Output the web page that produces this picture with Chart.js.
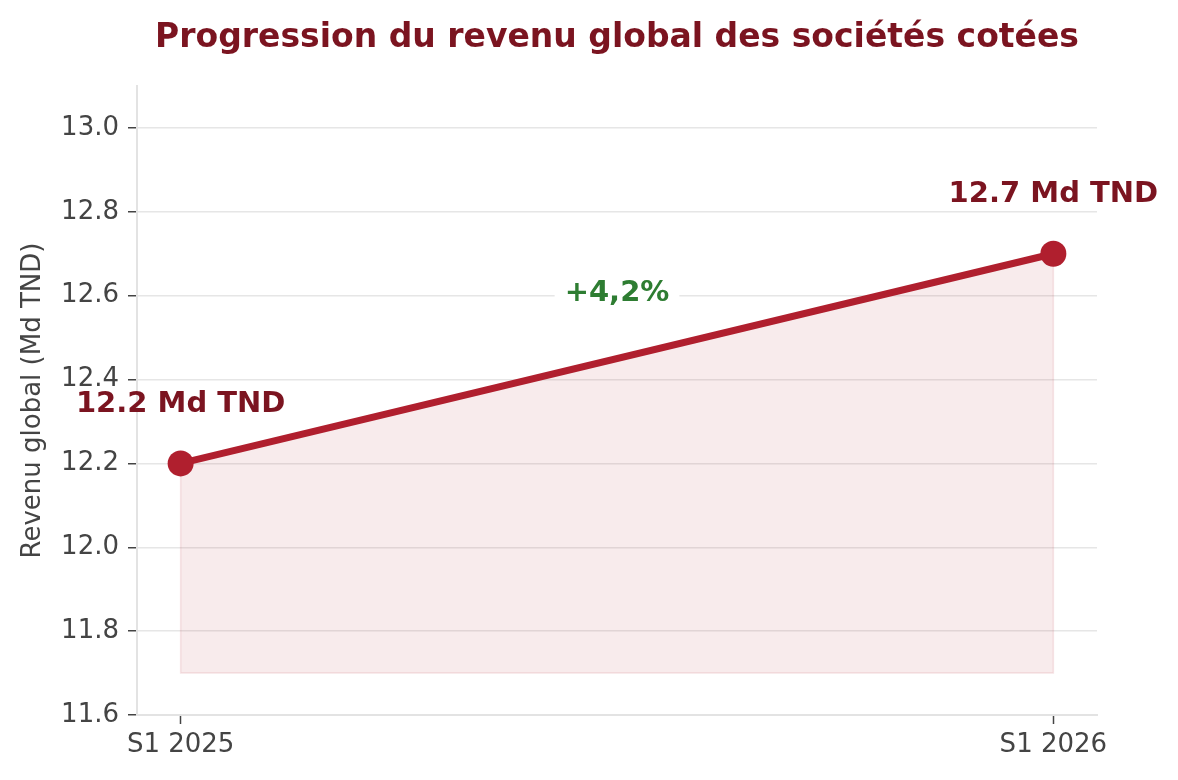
<!DOCTYPE html>
<html>
<head>
<meta charset="utf-8">
<script src="https://cdn.jsdelivr.net/npm/chart.js@4.4.1/dist/chart.umd.min.js"></script>
<style>
  html, body { margin: 0; padding: 0; background: #fff; }
  #wrap { width: 1178px; height: 780px; }
</style>
</head>
<body>
<div id="wrap"><canvas id="revChart" width="1178" height="780"></canvas></div>
<script>
const periods = ['S1 2025', 'S1 2026'];
const revenue = [12.2, 12.7];
const valueLabels = ['12.2 Md TND', '12.7 Md TND'];
const growthLabel = '+4,2%';
const fillBase = 11.7;
const yTicks = [11.6, 11.8, 12.0, 12.2, 12.4, 12.6, 12.8, 13.0];

const red = '#b01f2e';
const darkRed = '#7b1420';
const green = '#2e7d32';
const gray = '#444444';
const font = "'DejaVu Sans', sans-serif";

const linePoints = revenue.map((v, i) => ({ x: i, y: v }));
// outline of the shaded area (faint edge like fill_between)
const areaEdge = [
    { x: 0, y: revenue[0] },
    { x: 0, y: fillBase },
    { x: periods.length - 1, y: fillBase },
    { x: periods.length - 1, y: revenue[revenue.length - 1] }
];

const overlay = {
    id: 'overlay',
    afterDatasetsDraw(chart) {
        const { ctx, chartArea, scales: { x, y } } = chart;
        ctx.save();
        // title centred over the plot area
        ctx.fillStyle = darkRed;
        ctx.font = "bold 33px " + font;
        ctx.textAlign = 'center';
        ctx.textBaseline = 'middle';
        ctx.fillText('Progression du revenu global des sociétés cotées',
            (chartArea.left + chartArea.right) / 2, 38);

        // value labels above points
        ctx.font = "bold 29px " + font;
        revenue.forEach((v, i) => {
            ctx.fillText(valueLabels[i], x.getPixelForValue(i), y.getPixelForValue(v) - 59);
        });

        // growth label with white box
        const gx = x.getPixelForValue(0.5);
        const gy = y.getPixelForValue(12.6) - 2;
        const w = ctx.measureText(growthLabel).width;
        ctx.fillStyle = '#ffffff';
        ctx.fillRect(gx - w / 2 - 10, gy - 19, w + 20, 38);
        ctx.fillStyle = green;
        ctx.fillText(growthLabel, gx, gy);
        ctx.restore();
    }
};

new Chart(document.getElementById('revChart'), {
    type: 'line',
    data: {
        datasets: [
            {
                label: 'Revenu',
                data: linePoints,
                borderColor: red,
                borderWidth: 7,
                pointRadius: 13,
                pointBackgroundColor: red,
                pointBorderColor: red,
                pointBorderWidth: 0,
                fill: { value: fillBase },
                backgroundColor: 'rgba(178, 31, 46, 0.09)',
                tension: 0,
                order: 0
            },
            {
                label: 'edge',
                data: areaEdge,
                borderColor: 'rgba(178, 31, 46, 0.12)',
                borderWidth: 1.5,
                pointRadius: 0,
                fill: false,
                order: 1
            }
        ]
    },
    options: {
        responsive: false,
        animation: false,
        layout: { padding: { top: 86, right: 81, left: 18, bottom: 0 } },
        plugins: {
            legend: { display: false },
            title: { display: false },
            tooltip: { enabled: false }
        },
        scales: {
            x: {
                type: 'linear',
                min: -0.05,
                max: 1.05,
                afterBuildTicks: s => { s.ticks = periods.map((p, i) => ({ value: i })); },
                afterFit: s => { s.height = 65; },
                ticks: {
                    callback: v => periods[v],
                    color: gray,
                    font: { family: font, size: 26 },
                    padding: 6,
                    maxRotation: 0
                },
                grid: {
                    drawOnChartArea: false,
                    tickLength: 9,
                    tickColor: gray,
                    tickWidth: 1.5
                },
                border: { color: '#e3e3e3', width: 2 }
            },
            y: {
                min: 11.6,
                max: 13.1,
                afterBuildTicks: s => { s.ticks = yTicks.map(v => ({ value: v })); },
                afterFit: s => { s.width = 119; },
                ticks: {
                    callback: v => v.toFixed(1),
                    color: gray,
                    font: { family: font, size: 26 },
                    padding: 9
                },
                grid: {
                    color: '#e6e6e6',
                    lineWidth: 1.5,
                    tickLength: 9,
                    tickColor: gray,
                    tickWidth: 1.5
                },
                border: { color: '#e3e3e3', width: 2 },
                title: {
                    display: true,
                    text: 'Revenu global (Md TND)',
                    color: gray,
                    font: { family: font, size: 26 },
                    padding: { top: 0, bottom: 4 }
                }
            }
        }
    },
    plugins: [overlay]
});
</script>
</body>
</html>
